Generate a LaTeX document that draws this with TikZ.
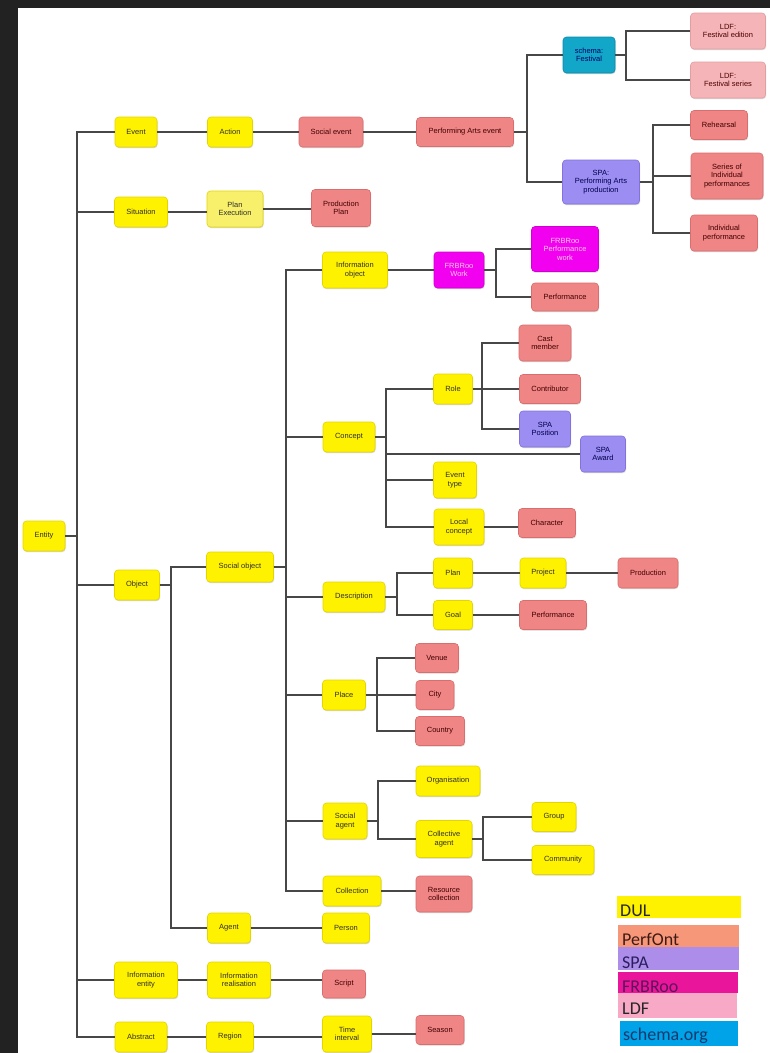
\documentclass[tikz,border=0pt]{standalone}
\usepackage{fontspec}
\setmainfont{Liberation Sans}
\newfontfamily\legendfont{Carlito}
\usetikzlibrary{shadows}
\definecolor{bgdark}{HTML}{222222}
\definecolor{cyel}{HTML}{FFF200}
\definecolor{cyelB}{HTML}{E2D500}
\definecolor{cyelL}{HTML}{F8F06A}
\definecolor{cpof}{HTML}{F08585}
\definecolor{cpofB}{HTML}{D86E6E}
\definecolor{cldf}{HTML}{F5B5B8}
\definecolor{cldfB}{HTML}{E39EA2}
\definecolor{cspa}{HTML}{9C8DF2}
\definecolor{cspaB}{HTML}{8272DA}
\definecolor{csch}{HTML}{12A6C8}
\definecolor{cschB}{HTML}{0B8AA8}
\definecolor{cfrb}{HTML}{F200F0}
\definecolor{cfrbB}{HTML}{D000D0}
\definecolor{lgdul}{HTML}{FFF200}
\definecolor{lgpof}{HTML}{F7977A}
\definecolor{lgspa}{HTML}{AC8DE9}
\definecolor{lgfrb}{HTML}{E9169B}
\definecolor{lgldf}{HTML}{F8A9C6}
\definecolor{lgsch}{HTML}{00A2E8}
\definecolor{tfrb}{HTML}{5E1458}
\definecolor{tsch}{HTML}{123A6E}
\definecolor{tspa}{HTML}{2A1F5E}
\definecolor{tpof}{HTML}{3E1A14}
\tikzset{
  box/.style={rounded corners=3.5pt, align=center, inner sep=1.5pt, line width=0.6pt,
    font=\fontsize{7.5}{8.5}\selectfont, text=black!82,
    general shadow={fill=black!16, shadow xshift=0.6pt, shadow yshift=-1.1pt}},
  yel/.style={box, fill=cyel, draw=cyelB},
  yelL/.style={box, fill=cyelL, draw=cyelB},
  pof/.style={box, fill=cpof, draw=cpofB, text=black!75!red},
  ldf/.style={box, fill=cldf, draw=cldfB, text=black!70!red},
  spa/.style={box, fill=cspa, draw=cspaB, text=black!70!blue},
  sch/.style={box, fill=csch, draw=cschB, text=black!60!blue},
  frb/.style={box, fill=cfrb, draw=cfrbB, text=white!80!magenta},
  sz/.style 2 args={minimum width=#1, minimum height=#2},
  conn/.style={draw=black!72, line width=1.1pt},
  legtext/.style={anchor=base west, inner sep=0pt, font=\legendfont\fontsize{18}{18}\selectfont}
}
\newcommand\tedge[3]{\draw[conn] (#1.east) -- (#1.east -| #2) |- (#3.west);}
\newcommand\hedge[2]{\draw[conn] (#1.east) -- (#1.east -| #2.west);}
\begin{document}
\begin{tikzpicture}[x=1pt,y=-1pt]
\useasboundingbox (0,0) rectangle (770,1053);
\fill[bgdark] (0,0) rectangle (770,1053);
\fill[white] (18,8) rectangle (770,1053);
% bus coordinates
\coordinate (b0) at (77,0);
\coordinate (b1) at (171,0);
\coordinate (b2) at (286,0);
\coordinate (b3) at (527,0);
\coordinate (b4) at (626,0);
\coordinate (b5) at (653,0);
\coordinate (b6) at (496,0);
\coordinate (b7) at (386,0);
\coordinate (b8) at (482,0);
\coordinate (b9) at (397,0);
\coordinate (b10) at (377,0);
\coordinate (b11) at (378,0);
\coordinate (b12) at (483,0);
% nodes
\node[yel, sz={42}{30}] (entity) at (44,536) {Entity};
\node[yel, sz={42}{30}] (event) at (136,132) {Event};
\node[yel, sz={45}{30}] (action) at (230,132) {Action};
\node[pof, sz={64}{30}] (socev) at (331,132) {Social event};
\node[pof, sz={97}{29}] (pae) at (465,132) {Performing Arts event};
\node[sch, sz={52}{36}] (fest) at (589,55) {schema:\\Festival};
\node[ldf, sz={75}{36}] (ldfed) at (728,31) {LDF:\\Festival edition};
\node[ldf, sz={75}{36}] (ldfser) at (728,80) {LDF:\\Festival series};
\node[spa, sz={77}{44}] (spaprod) at (601,182) {SPA:\\Performing Arts\\production};
\node[pof, sz={57}{29}] (reh) at (719,125) {Rehearsal};
\node[pof, sz={72}{46}] (series) at (727,176) {Series of\\Individual\\performances};
\node[pof, sz={67}{36}] (indiv) at (724,233) {Individual\\performance};
\node[yel, sz={53}{30}] (sit) at (141,212) {Situation};
\node[yelL, sz={56}{36}] (planex) at (235,209) {Plan\\Execution};
\node[pof, sz={59}{37}] (prodplan) at (341,208) {Production\\Plan};
\node[yel, sz={65}{36}] (infoobj) at (355,270) {Information\\object};
\node[frb, sz={50}{36}] (frbwork) at (459,270) {FRBRoo\\Work};
\node[frb, sz={67}{45}] (frbperf) at (565,249) {FRBRoo\\Performance\\work};
\node[pof, sz={67}{28}] (perf1) at (565,297) {Performance};
\node[yel, sz={52}{30}] (concept) at (349,437) {Concept};
\node[yel, sz={39}{30}] (role) at (453,389) {Role};
\node[pof, sz={52}{36}] (cast) at (545,343) {Cast\\member};
\node[pof, sz={61}{29}] (contrib) at (550,389) {Contributor};
\node[spa, sz={51}{36}] (spapos) at (545,429) {SPA\\Position};
\node[spa, sz={45}{36}] (spaaward) at (603,454) {SPA\\Award};
\node[yel, sz={43}{36}] (evtype) at (455,480) {Event\\type};
\node[yel, sz={50}{36}] (localc) at (459,527) {Local\\concept};
\node[pof, sz={57}{29}] (character) at (547,523) {Character};
\node[yel, sz={67}{30}] (socobj) at (240,567) {Social object};
\node[yel, sz={45}{30}] (object) at (137,585) {Object};
\node[yel, sz={62}{30}] (descr) at (354,597) {Description};
\node[yel, sz={39}{30}] (plan) at (453,573) {Plan};
\node[yel, sz={39}{29}] (goal) at (453,615) {Goal};
\node[yel, sz={46}{30}] (project) at (543,573) {Project};
\node[pof, sz={60}{30}] (production) at (648,573) {Production};
\node[pof, sz={67}{29}] (perf2) at (553,615) {Performance};
\node[yel, sz={43}{30}] (place) at (344,695) {Place};
\node[pof, sz={43}{29}] (venue) at (437,658) {Venue};
\node[pof, sz={38}{29}] (city) at (435,695) {City};
\node[pof, sz={49}{29}] (country) at (440,731) {Country};
\node[yel, sz={44}{36}] (socagent) at (345,821) {Social\\agent};
\node[yel, sz={64}{30}] (org) at (448,781) {Organisation};
\node[yel, sz={56}{37}] (collagent) at (444,839) {Collective\\agent};
\node[yel, sz={44}{29}] (group) at (554,817) {Group};
\node[yel, sz={62}{29}] (community) at (563,860) {Community};
\node[yel, sz={58}{30}] (collection) at (352,891) {Collection};
\node[pof, sz={56}{36}] (rescoll) at (444,894) {Resource\\collection};
\node[yel, sz={43}{30}] (agent) at (229,928) {Agent};
\node[yel, sz={47}{30}] (person) at (346,928) {Person};
\node[yel, sz={63}{36}] (infoent) at (146,980) {Information\\entity};
\node[yel, sz={63}{36}] (inforeal) at (239,980) {Information\\realisation};
\node[pof, sz={43}{28}] (script) at (344,984) {Script};
\node[yel, sz={52}{30}] (abstract) at (141,1037) {Abstract};
\node[yel, sz={47}{30}] (region) at (230,1037) {Region};
\node[yel, sz={49}{36}] (timeint) at (347,1034) {Time\\interval};
\node[pof, sz={48}{29}] (season) at (440,1030) {Season};
% connectors
\foreach \c in {event,sit,object,infoent,abstract} {\tedge{entity}{b0}{\c}}
\hedge{event}{action}
\hedge{action}{socev}
\hedge{socev}{pae}
\foreach \c in {fest,spaprod} {\tedge{pae}{b3}{\c}}
\foreach \c in {ldfed,ldfser} {\tedge{fest}{b4}{\c}}
\foreach \c in {reh,series,indiv} {\tedge{spaprod}{b5}{\c}}
\hedge{sit}{planex}
\hedge{planex}{prodplan}
\foreach \c in {socobj,agent} {\tedge{object}{b1}{\c}}
\foreach \c in {infoobj,concept,descr,place,socagent,collection} {\tedge{socobj}{b2}{\c}}
\hedge{infoobj}{frbwork}
\foreach \c in {frbperf,perf1} {\tedge{frbwork}{b6}{\c}}
\foreach \c in {role,spaaward,evtype,localc} {\tedge{concept}{b7}{\c}}
\foreach \c in {cast,contrib,spapos} {\tedge{role}{b8}{\c}}
\hedge{localc}{character}
\foreach \c in {plan,goal} {\tedge{descr}{b9}{\c}}
\hedge{plan}{project}
\hedge{project}{production}
\hedge{goal}{perf2}
\foreach \c in {venue,city,country} {\tedge{place}{b10}{\c}}
\foreach \c in {org,collagent} {\tedge{socagent}{b11}{\c}}
\foreach \c in {group,community} {\tedge{collagent}{b12}{\c}}
\hedge{collection}{rescoll}
\hedge{agent}{person}
\hedge{infoent}{inforeal}
\hedge{inforeal}{script}
\hedge{abstract}{region}
\hedge{region}{timeint}
\hedge{timeint}{season}
% legend
\fill[lgdul] (617,896) rectangle (741,918);
\fill[lgpof] (618,925) rectangle (739,947);
\fill[lgspa] (618,947) rectangle (739,970);
\fill[lgfrb] (618,972) rectangle (738,993);
\fill[lgldf] (618,993) rectangle (737,1018);
\fill[lgsch] (620,1021) rectangle (738,1046);
\node[legtext, text=black!85] (ldul) at (620,916) {DUL};
\node[legtext, text=tpof] (lpof) at (622,945.5) {PerfOnt};
\node[legtext, text=tspa] (lspa) at (622,968) {SPA};
\node[legtext, text=tfrb] (lfrb) at (622,992) {FRBRoo};
\node[legtext, text=black!85] (lldf) at (622,1014) {LDF};
\node[legtext, text=tsch] (lsch) at (623,1040.5) {schema.org};
\end{tikzpicture}
\end{document}
